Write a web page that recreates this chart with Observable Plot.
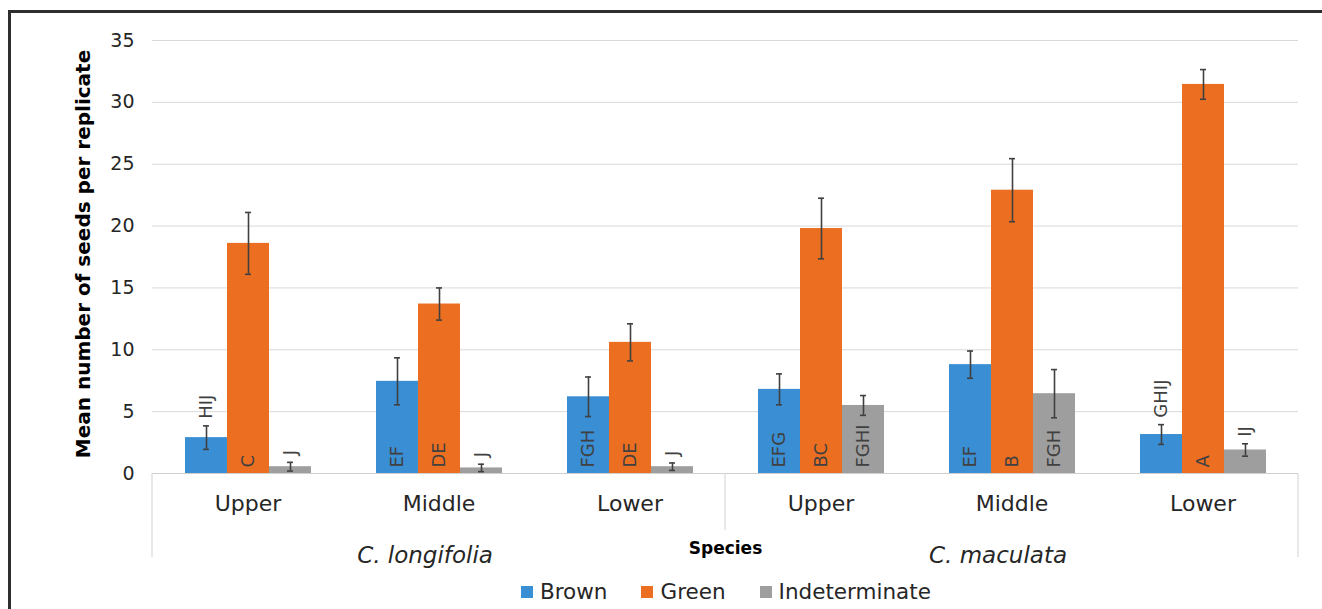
<!DOCTYPE html>
<html>
<head>
<meta charset="utf-8">
<script src="https://cdn.jsdelivr.net/npm/d3@7"></script>
<script src="https://cdn.jsdelivr.net/npm/@observablehq/plot@0.6"></script>
<style>
  html, body { margin: 0; padding: 0; background: #fff; overflow: hidden; }
  body { width: 1322px; height: 609px; position: relative; font-family: "DejaVu Sans", sans-serif; }
  #chart { position: absolute; left: 0; top: 0; }
  #legend { position: absolute; left: 521px; top: 575px; }
  #legend span { margin-right: 34px !important; font-size: 21.5px; color: #262626; }
  #legend span svg { margin-right: 7px !important; }
  #border { position: absolute; left: 8px; top: 10px; width: 1340px; height: 640px;
            border: 3px solid #2e2e2e; pointer-events: none; }
</style>
</head>
<body>
<div id="chart"></div>
<div id="legend"></div>
<div id="border"></div>
<script>
// Seed colour classes and the positions on the inflorescence
const series = ["Brown", "Green", "Indeterminate"];
const colors = ["#3a8ed3", "#eb6e21", "#9e9e9e"];
const speciesNames = ["C. longifolia", "C. maculata"];
const positions = ["Upper", "Middle", "Lower"];
const yTicks = [0, 5, 10, 15, 20, 25, 30, 35];

// Means and error-bar half widths, ordered longifolia U/M/L then maculata U/M/L
const brownMean = [2.9, 7.45, 6.2, 6.8, 8.8, 3.15];
const brownErr  = [0.95, 1.9, 1.6, 1.25, 1.1, 0.8];
const greenMean = [18.6, 13.7, 10.6, 19.8, 22.9, 31.45];
const greenErr  = [2.5, 1.3, 1.5, 2.45, 2.55, 1.2];
const indetMean = [0.55, 0.45, 0.55, 5.5, 6.45, 1.9];
const indetErr  = [0.35, 0.3, 0.3, 0.8, 1.95, 0.5];

// Significance letters
const brownLetters = ["HIJ", "EF", "FGH", "EFG", "EF", "GHIJ"];
const greenLetters = ["C", "DE", "DE", "BC", "B", "A"];
const indetLetters = ["J", "J", "J", "FGHI", "FGH", "IJ"];

const means = [brownMean, greenMean, indetMean];
const errs = [brownErr, greenErr, indetErr];
const letters = [brownLetters, greenLetters, indetLetters];

const groups = [];
speciesNames.forEach(sp => positions.forEach(p => groups.push({key: sp + " · " + p, species: sp, position: p})));

const rows = [];
groups.forEach((g, i) => series.forEach((s, j) => {
  rows.push({
    group: g.key, series: s,
    mean: means[j][i], lo: means[j][i] - errs[j][i], hi: means[j][i] + errs[j][i],
    letter: letters[j][i]
  });
}));

// Short bars carry their letter above the error bar instead of inside
const insideMin = 4;
const inside = rows.filter(d => d.mean >= insideMin);
const above = rows.filter(d => d.mean < insideMin);

const speciesLabels = speciesNames.map(sp => ({group: sp + " · Middle", text: sp}));

const font = "DejaVu Sans, sans-serif";
const ink = "#404040";

const plot = Plot.plot({
  width: 1322,
  height: 572,
  marginTop: 40,
  marginBottom: 99,
  marginLeft: 150,
  marginRight: 22,
  style: {fontFamily: font, fontSize: "18px", color: "#262626", background: "#fff", overflow: "visible"},
  fx: {domain: groups.map(g => g.key), axis: null, padding: 0},
  x: {domain: series, axis: null, paddingInner: 0, paddingOuter: 0.75},
  y: {domain: [0, 35], axis: null},
  color: {domain: series, range: colors},
  marks: [
    Plot.gridY(yTicks.slice(1), {stroke: "#d9d9d9", strokeOpacity: 1, strokeWidth: 1}),
    Plot.ruleY([0], {stroke: "#d0d0d0", strokeWidth: 1.2}),
    Plot.axisY(yTicks, {tickSize: 0, tickPadding: 18, label: null, fontSize: 19, fill: "#262626"}),
    Plot.barY(rows, {fx: "group", x: "series", y: "mean", fill: "series"}),
    Plot.ruleX(rows, {fx: "group", x: "series", y1: "lo", y2: "hi", stroke: ink, strokeWidth: 1.6}),
    Plot.tickY(rows, {fx: "group", x: "series", y: "lo", stroke: ink, strokeWidth: 1.6, insetLeft: 18, insetRight: 18}),
    Plot.tickY(rows, {fx: "group", x: "series", y: "hi", stroke: ink, strokeWidth: 1.6, insetLeft: 18, insetRight: 18}),
    Plot.text(inside, {fx: "group", x: "series", y: () => 0, text: "letter", rotate: -90, textAnchor: "start", dy: -6, fill: ink, fontSize: 18}),
    Plot.text(above, {fx: "group", x: "series", y: "hi", text: "letter", rotate: -90, textAnchor: "start", dy: -7, fill: ink, fontSize: 18}),
    Plot.text(groups, {fx: "key", frameAnchor: "bottom", dy: 37, text: "position", fontSize: 22, fill: "#262626"}),
    Plot.text(speciesLabels, {fx: "group", frameAnchor: "bottom", dy: 89, dx: -14, text: "text", fontSize: 23, fontStyle: "italic", fill: "#262626"}),
    Plot.text(["Species"], {facet: "super", frameAnchor: "bottom", dy: 80, text: d => d, fontSize: 17, fontWeight: "bold", fill: "#000"}),
    Plot.text(["Mean number of seeds per replicate"], {facet: "super", frameAnchor: "left", textAnchor: "middle", dx: -69, dy: -3, rotate: -90, text: d => d, fontSize: 20, fontWeight: "bold", fill: "#000"})
  ]
});

// Category separators below the axis, placed from the facet scale
const svg = d3.select(plot.tagName === "svg" ? plot : plot.querySelector("svg"));
const fx = plot.scale("fx");
const y = plot.scale("y");
const y0 = y.apply(0);
const keys = groups.map(g => g.key);
const seps = [
  {x: fx.apply(keys[0]), y2: y0 + 84},
  {x: fx.apply(keys[3]), y2: y0 + 57},
  {x: fx.apply(keys[5]) + fx.bandwidth, y2: y0 + 84}
];
svg.append("g").selectAll("line").data(seps).join("line")
  .attr("x1", d => d.x).attr("x2", d => d.x)
  .attr("y1", y0).attr("y2", d => d.y2)
  .attr("stroke", "#d9d9d9").attr("stroke-width", 1.2);

document.getElementById("chart").append(plot);

const legend = plot.legend("color", {swatchSize: 12, style: {fontFamily: font, fontSize: "21.5px", color: "#262626"}});
document.getElementById("legend").append(legend);
</script>
</body>
</html>
